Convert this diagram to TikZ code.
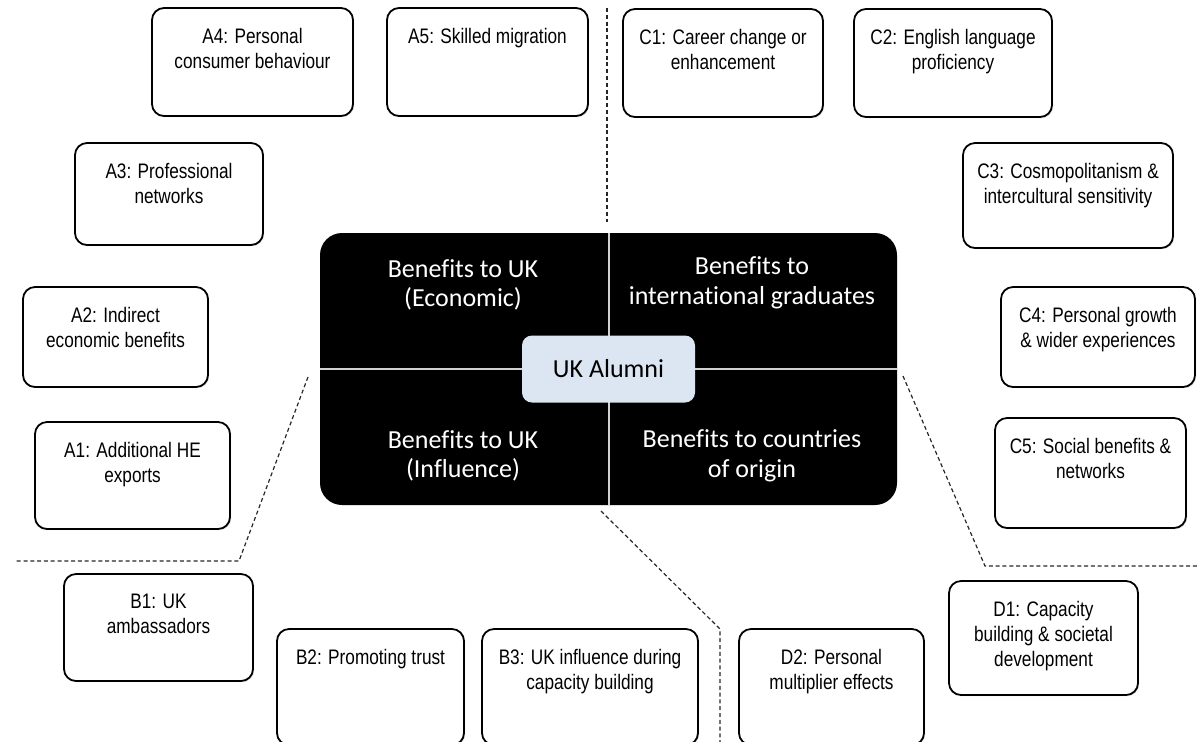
\documentclass[tikz,border=0pt]{standalone}
\usepackage{fontspec}
\newfontfamily\narrowfont[FakeStretch=0.82]{Liberation Sans}
\newfontfamily\calfont[Ligatures=NoCommon]{Carlito}
\usetikzlibrary{positioning}
\usetikzlibrary{shadows}
\definecolor{alumni}{HTML}{DCE6F2}

\begin{document}
\begin{tikzpicture}[x=0.5pt,y=-0.5pt,
    item/.style={draw,fill=white,rounded corners=6pt,line width=0.9pt,inner sep=0pt,
      drop shadow={shadow xshift=0.6pt,shadow yshift=-0.6pt,opacity=0.25}},
    itemtext/.style={font=\narrowfont\fontsize{10.5}{12.5}\selectfont,align=center,inner sep=0pt},
    quad/.style={font=\calfont\fontsize{13}{14.8}\selectfont,text=white,align=center},
    split/.style={black!85,line width=0.6pt,dash pattern=on 2pt off 1.4pt}]

      \path[use as bounding box,clip] (0,0) rectangle (1197,741);

      \coordinate (t1) at (607,8);
      \coordinate (t2) at (607,222);
      \coordinate (l1) at (308,377);
      \coordinate (l2) at (239,561);
      \coordinate (l3) at (15,561);
      \coordinate (m1) at (601,511);
      \coordinate (m2) at (720,629);
      \coordinate (m3) at (720,750);
      \coordinate (r1) at (903,376);
      \coordinate (r2) at (985,566);
      \coordinate (r3) at (1200,566);

      \draw[split] (t1) -- (t2);
      \draw[split] (l1) -- (l2) -- (l3);
      \draw[split] (m1) -- (m2) -- (m3);
      \draw[split] (r1) -- (r2) -- (r3);

      \node[fill=black,rounded corners=11pt,inner sep=0pt,minimum width=288.5pt,minimum height=136pt] (core) at (608.5,369) {};
      \draw[white!82!black,line width=1pt] (core.north) -- (core.south) (core.west) -- (core.east);

      \node[quad] (econ) at (463,285) {Benefits to UK\\(Economic)};
      \node[quad] (grad) at (752,283) {Benefits to\\international graduates};
      \node[quad] (infl) at (463,456) {Benefits to UK\\(Influence)};
      \node[quad] (orig) at (752,456) {Benefits to countries\\of origin};
      \node[fill=alumni,rounded corners=5pt,minimum width=86.5pt,minimum height=33.5pt,
        font=\calfont\fontsize{13}{15}\selectfont] (alumni) at (core.center) {UK Alumni};

      \node[item,minimum width=100.5pt,minimum height=54pt] (a4) at (252.5,62) {};
      \node[itemtext,below=10.5pt of a4.north] (a4t) {A4: Personal\\consumer behaviour};
      \node[item,minimum width=100.5pt,minimum height=54pt] (a5) at (487.5,62) {};
      \node[itemtext,below=10.5pt of a5.north] (a5t) {A5: Skilled migration};
      \node[item,minimum width=94pt,minimum height=51pt] (a3) at (169,194) {};
      \node[itemtext,below=10.5pt of a3.north] (a3t) {A3: Professional\\networks};
      \node[item,minimum width=92.5pt,minimum height=50pt] (a2) at (115.5,337) {};
      \node[itemtext,below=10.5pt of a2.north] (a2t) {A2: Indirect\\economic benefits};
      \node[item,minimum width=97.5pt,minimum height=53.5pt] (a1) at (132.5,475.5) {};
      \node[itemtext,below=10.5pt of a1.north] (a1t) {A1: Additional HE\\exports};

      \node[item,minimum width=100pt,minimum height=54pt] (c1) at (723,63) {};
      \node[itemtext,below=10.5pt of c1.north] (c1t) {C1: Career change or\\enhancement};
      \node[item,minimum width=99pt,minimum height=54pt] (c2) at (953,63) {};
      \node[itemtext,below=10.5pt of c2.north] (c2t) {C2: English language\\proficiency};
      \node[item,minimum width=105pt,minimum height=52.5pt] (c3) at (1068,195.5) {};
      \node[itemtext,below=10.5pt of c3.north] (c3t) {C3: Cosmopolitanism \&\\intercultural sensitivity};
      \node[item,minimum width=97pt,minimum height=50pt] (c4) at (1098,337) {};
      \node[itemtext,below=10.5pt of c4.north] (c4t) {C4: Personal growth\\\& wider experiences};
      \node[item,minimum width=95.5pt,minimum height=55pt] (c5) at (1090.5,473) {};
      \node[itemtext,below=10.5pt of c5.north] (c5t) {C5: Social benefits \&\\networks};

      \node[item,minimum width=94.5pt,minimum height=53.5pt] (b1) at (158.5,627.5) {};
      \node[itemtext,below=10.5pt of b1.north] (b1t) {B1: UK\\ambassadors};
      \node[item,minimum width=93.5pt,minimum height=58pt] (b2) at (370.5,687) {};
      \node[itemtext,below=10.5pt of b2.north] (b2t) {B2: Promoting trust};
      \node[item,minimum width=108pt,minimum height=58pt] (b3) at (590,687) {};
      \node[itemtext,below=10.5pt of b3.north] (b3t) {B3: UK influence during\\capacity building};

      \node[item,minimum width=92.5pt,minimum height=58pt] (d2) at (831.5,687) {};
      \node[itemtext,below=10.5pt of d2.north] (d2t) {D2: Personal\\multiplier effects};
      \node[item,minimum width=94.5pt,minimum height=57pt] (d1) at (1043.5,638) {};
      \node[itemtext,below=10.5pt of d1.north] (d1t) {D1: Capacity\\building \& societal\\development};
\end{tikzpicture}
\end{document}
